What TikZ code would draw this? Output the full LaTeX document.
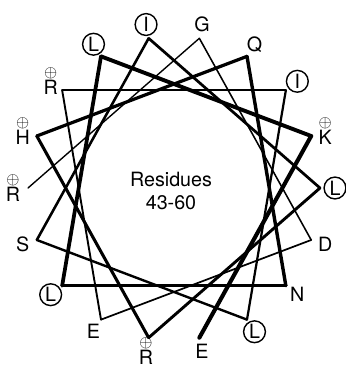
\documentclass[tikz,border=0pt]{standalone}
\usepackage{fontspec}
\setmainfont{TeX Gyre Heros}
\usetikzlibrary{calc}
\newcommand\chgd[1]{{\fontsize{11.5}{12}\selectfont$\oplus$}\\[-4pt]#1}
\begin{document}
\begin{tikzpicture}[x=0.025cm,y=0.025cm, font=\fontsize{14}{16}\selectfont, line cap=round,
  hyd/.style={draw,circle,line width=1pt,minimum size=15.5pt,inner sep=0pt},
  chg/.style={align=center,inner sep=0pt}, plain/.style={inner sep=0pt}]
  \useasboundingbox (0,0) rectangle (346,369);
  \coordinate (c) at (174,181);
  % residues 43-60, 100 deg per residue, starting at E43
  \foreach \r/\t [count=\i from 0] in {E/plain,\chgd{K}/chg,L/hyd,L/hyd,N/plain,Q/plain,\chgd{H}/chg,\chgd{R}/chg,L/hyd,
      I/hyd,S/plain,L/hyd,I/hyd,\chgd{R}/chg,E/plain,D/plain,G/plain,\chgd{R}/chg}{
    \coordinate (v\i) at ($(c)+(-80+100*\i:146 and 152)$);
    \node[\t] (l\i) at ($(c)+(-80+100*\i:161 and 166)$) {\r}; }
  % the spiral gets thinner towards residue 60
  \foreach \i [remember=\i as \p (initially 0)] in {1,...,17}{
    \pgfmathsetmacro\w{2.9-0.12*(\i-1)}
    \draw[line width=\w pt] (v\p) -- (v\i); }
  \node[align=center] (lbl) at (171,178) {Residues\\43-60};
\end{tikzpicture}
\end{document}
